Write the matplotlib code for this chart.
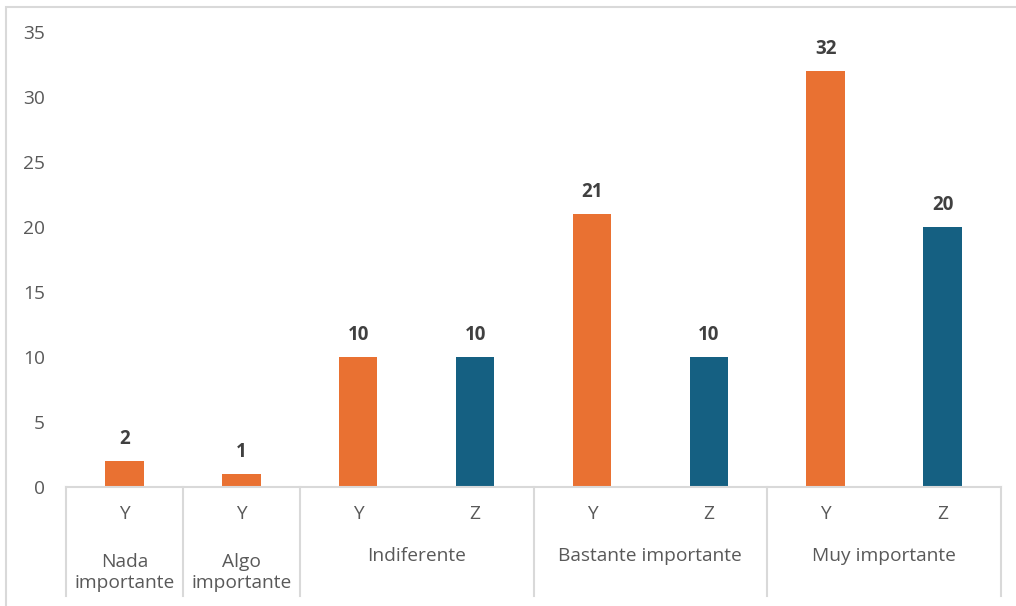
import numpy as np
import matplotlib.pyplot as plt
from matplotlib.patches import Rectangle
from matplotlib.lines import Line2D

plt.rcParams['font.family'] = ['Open Sans', 'DejaVu Sans']

# survey answers, one bar per (group, series) slot
groups = ["Nada\nimportante", "Algo\nimportante", "Indiferente",
          "Bastante importante", "Muy importante"]
group_series = [["Y"], ["Y"], ["Y", "Z"], ["Y", "Z"], ["Y", "Z"]]
values = [[2], [1], [10, 10], [21, 10], [32, 20]]
yticks = [0, 5, 10, 15, 20, 25, 30, 35]

colors = {"Y": "#E97132", "Z": "#156082"}
grey = "#D9D9D9"
txt = "#595959"
fs = 13.8

W, H = 1016, 606
fig = plt.figure(figsize=(W / 100, H / 100), dpi=100)
ax = fig.add_axes([66 / W, 1 - 487 / H, (1001 - 66) / W, (487 - 32) / H])

# outer chart frame (only left/top edges visible)
fig.patches.append(Rectangle((6 / W, -0.1), 1.2, 1 - 7 / H + 0.1,
                             transform=fig.transFigure, fill=False,
                             edgecolor=grey, lw=1.5))

pos = 0
bounds = [0]
for g, ser, vals in zip(groups, group_series, values):
    for s, v in zip(ser, vals):
        ax.bar(pos, v, width=0.33, color=colors[s])
        ax.text(pos, v + 0.9, str(v), ha="center", va="bottom",
                fontsize=13.5, fontweight="bold", color="#404040")
        ax.text(pos, -2.1, s, ha="center", va="center", fontsize=fs,
                color=txt, clip_on=False)
        pos += 1
    bounds.append(pos)

n = pos
ax.set_xlim(-0.5, n - 0.5)
ax.set_ylim(0, 35)
ax.set_yticks(yticks)
ax.tick_params(axis="y", length=0, labelsize=fs, labelcolor=txt, pad=15)
ax.set_xticks([])
for sp in ["top", "right", "left"]:
    ax.spines[sp].set_visible(False)
ax.spines["bottom"].set_color(grey)
ax.spines["bottom"].set_linewidth(1.5)

# group labels and separators below the axis
y_low = -(596 - 487) / (487 - 32) * 35
for i, g in enumerate(groups):
    a, b = bounds[i], bounds[i + 1]
    c = (a + b - 1) / 2
    lines = g.split("\n")
    if len(lines) == 1:
        ax.text(c, -5.3, g, ha="center", va="center", fontsize=fs,
                color=txt, clip_on=False)
    else:
        ax.text(c, -6.6, g, ha="center", va="center", fontsize=fs,
                color=txt, clip_on=False, linespacing=1.2)
for b in bounds:
    ax.add_line(Line2D([b - 0.5, b - 0.5], [0, y_low], color=grey, lw=1.5,
                       clip_on=False))

fig.savefig("out.png", dpi=100)
